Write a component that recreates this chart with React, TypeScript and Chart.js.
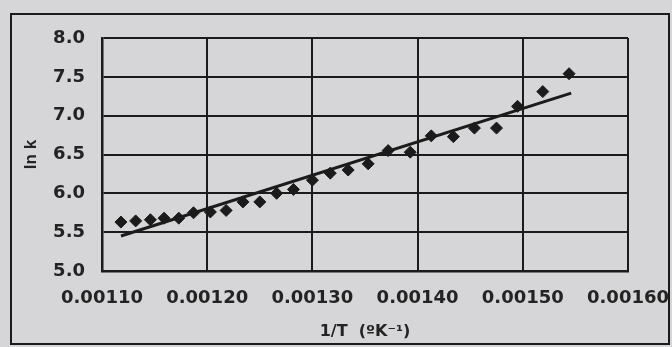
import React, { useEffect, useRef } from "react";
import { Chart, registerables } from "chart.js";

Chart.register(...registerables);

// Measured points: 1/T (1/K) vs ln k
const invT = [
  0.001118, 0.001132, 0.001146, 0.001159, 0.001173, 0.001187, 0.001203, 0.001218,
  0.001234, 0.00125, 0.001266, 0.001282, 0.0013, 0.001317, 0.001334, 0.001353,
  0.001372, 0.001393, 0.001413, 0.001434, 0.001454, 0.001475, 0.001495, 0.001519,
  0.001544,
];
const lnK = [
  5.63, 5.645, 5.66, 5.68, 5.68, 5.75, 5.76, 5.78,
  5.89, 5.89, 6.0, 6.05, 6.17, 6.26, 6.3, 6.38,
  6.55, 6.53, 6.74, 6.73, 6.84, 6.84, 7.12, 7.31,
  7.54,
];
// Linear trend line end points
const fitInvT = [0.001118, 0.001546];
const fitLnK = [5.45, 7.29];

const xTickValues = [0.0011, 0.0012, 0.0013, 0.0014, 0.0015, 0.0016];
const yTickValues = [5.0, 5.5, 6.0, 6.5, 7.0, 7.5, 8.0];
const xTitle = "1/T  (\u00baK\u207b\u00b9)";
const yTitle = "ln k";

const BG = "#d6d6d8";
const INK = "#1b1b1b";
const TEXT = "#232323";

const framePlugin = {
  id: "frame",
  beforeDraw(chart: any) {
    const ctx = chart.ctx;
    ctx.save();
    ctx.fillStyle = BG;
    ctx.fillRect(0, 0, chart.width, chart.height);
    ctx.restore();
  },
  afterDraw(chart: any) {
    const ctx = chart.ctx;
    ctx.save();
    ctx.strokeStyle = INK;
    ctx.lineWidth = 2;
    ctx.strokeRect(11, 14, 658, 330);
    ctx.restore();
  },
};

export default function App() {
  const ref = useRef<HTMLCanvasElement | null>(null);

  useEffect(() => {
    if (!ref.current) return;
    const chart = new Chart(ref.current, {
      type: "scatter",
      data: {
        datasets: [
          {
            type: "line",
            data: fitInvT.map((x, i) => ({ x, y: fitLnK[i] })),
            borderColor: INK,
            borderWidth: 3,
            pointRadius: 0,
            showLine: true,
            fill: false,
          } as any,
          {
            data: invT.map((x, i) => ({ x, y: lnK[i] })),
            pointStyle: "rectRot",
            pointRadius: 6,
            backgroundColor: INK,
            borderColor: INK,
            borderWidth: 1,
          },
        ],
      },
      options: {
        animation: false,
        responsive: false,
        devicePixelRatio: 1,
        layout: { padding: { top: 38, right: 44, bottom: 0, left: 0 } },
        plugins: {
          legend: { display: false },
          tooltip: { enabled: false },
        },
        scales: {
          x: {
            type: "linear",
            min: 0.0011,
            max: 0.0016,
            afterBuildTicks: (s: any) => {
              s.ticks = xTickValues.map((v) => ({ value: v }));
            },
            afterFit: (s: any) => {
              s.height = 76;
              s.paddingLeft = 0;
              s.paddingRight = 0;
            },
            ticks: {
              padding: 17,
              autoSkip: false,
              maxRotation: 0,
              color: TEXT,
              font: { family: "'DejaVu Sans'", size: 18, weight: "bold" },
              callback: (v: any) => Number(v).toFixed(5),
            },
            grid: { color: INK, lineWidth: 2, drawTicks: false },
            border: { color: INK, width: 2.5 },
            title: {
              display: true,
              text: xTitle,
              color: TEXT,
              font: { family: "'DejaVu Sans'", size: 16, weight: "bold" },
              padding: { top: 0, bottom: 6 },
            },
          },
          y: {
            type: "linear",
            min: 5,
            max: 8,
            afterBuildTicks: (s: any) => {
              s.ticks = yTickValues.map((v) => ({ value: v }));
            },
            afterFit: (s: any) => {
              s.width = 102;
              s.paddingTop = 0;
              s.paddingBottom = 0;
            },
            ticks: {
              padding: 17,
              color: TEXT,
              font: { family: "'DejaVu Sans'", size: 18, weight: "bold" },
              callback: (v: any) => Number(v).toFixed(1),
            },
            grid: { color: INK, lineWidth: 2, drawTicks: false },
            border: { color: INK, width: 2.5 },
            title: {
              display: true,
              text: yTitle,
              color: TEXT,
              font: { family: "'Liberation Sans'", size: 17, weight: "bold" },
              padding: { top: 21, bottom: 0 },
            },
          },
        },
      },
      plugins: [framePlugin],
    });
    return () => chart.destroy();
  }, []);

  return (
    <div style={{ position: "fixed", left: 0, top: 0, width: 672, height: 347, background: BG }}>
      <canvas ref={ref} width={672} height={347} style={{ display: "block", width: 672, height: 347 }} />
    </div>
  );
}
